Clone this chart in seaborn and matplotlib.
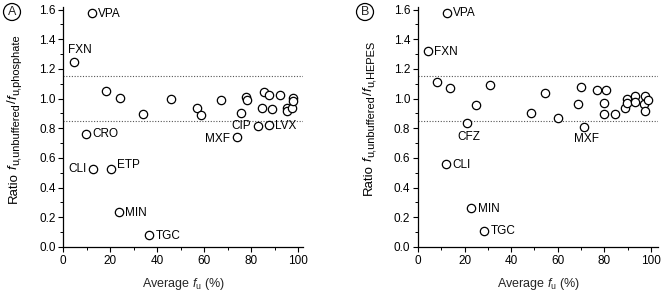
import matplotlib
matplotlib.use("Agg")
import matplotlib.pyplot as plt
import seaborn as sns
import pandas as pd
from matplotlib.ticker import MultipleLocator
from matplotlib.transforms import IdentityTransform

sns.set_theme(style="ticks")
plt.rcParams['font.family'] = ['Liberation Sans', 'DejaVu Sans']
plt.rcParams['mathtext.fontset'] = 'custom'
plt.rcParams['mathtext.rm'] = 'Liberation Sans'
plt.rcParams['mathtext.it'] = 'Liberation Sans:italic'

# Panel A data: average fu (%) vs ratio unbuffered/phosphate
a_fu = [12.3, 4.5, 18.2, 24.1, 33.8, 45.8, 56.7, 58.6, 67.1, 75.7, 77.7, 78.2,
        85.2, 87.7, 92.1, 84.7, 88.8, 95.3, 95.3, 97.4, 97.6, 97.9,
        82.7, 87.4, 73.8, 9.6, 12.5, 20.3, 23.8, 36.5]
a_ratio = [1.575, 1.25, 1.05, 1.005, 0.897, 1.0, 0.935, 0.89, 0.99, 0.90, 1.01, 0.99,
           1.047, 1.027, 1.025, 0.937, 0.93, 0.937, 0.917, 0.937, 1.006, 0.987,
           0.817, 0.819, 0.744, 0.763, 0.528, 0.523, 0.235, 0.078]
a_names = ["VPA", "FXN", "", "", "", "", "", "", "", "", "", "",
           "", "", "", "", "", "", "", "", "", "",
           "CIP", "LVX", "MXF", "CRO", "CLI", "ETP", "MIN", "TGC"]

# Panel B data: average fu (%) vs ratio unbuffered/HEPES
b_fu = [12.3, 4.4, 8.2, 13.7, 20.9, 25.0, 30.9, 48.6, 54.5, 60.2, 68.7, 70.1,
        71.4, 76.7, 80.5, 79.7, 79.7, 84.4, 89.0, 89.8, 89.8, 93.3, 93.3,
        97.6, 97.1, 97.6, 98.9, 12.0, 22.9, 28.5]
b_ratio = [1.58, 1.32, 1.11, 1.07, 0.835, 0.955, 1.095, 0.90, 1.035, 0.87, 0.965, 1.08,
           0.81, 1.055, 1.06, 0.97, 0.895, 0.895, 0.94, 1.0, 0.97, 1.015, 0.975,
           1.015, 0.965, 0.915, 0.99, 0.56, 0.26, 0.11]
b_names = ["VPA", "FXN", "", "", "CFZ", "", "", "", "", "", "", "",
           "MXF", "", "", "", "", "", "", "", "", "", "",
           "", "", "", "", "CLI", "MIN", "TGC"]

ylabel_a = ["Ratio", "f", "u,unbuffered", "/", "f", "u,phosphate"]
ylabel_b = ["Ratio", "f", "u,unbuffered", "/", "f", "u,HEPES"]

# label placement (offset in points, alignment)
R = ((4.5, -0.5), 'left', 'center')
L = ((-4.5, -0.5), 'right', 'center')
place_a = {"VPA": R, "FXN": ((4, 8), 'center', 'center'), "CIP": L, "LVX": R,
           "MXF": ((-4.5, -1.5), 'right', 'center'), "CRO": R, "CLI": L,
           "ETP": ((4.5, 3.5), 'left', 'center'), "MIN": R, "TGC": R}
place_b = {"VPA": R, "FXN": R, "CFZ": ((1.5, -10), 'center', 'center'),
           "MXF": ((1.2, -8.5), 'center', 'center'), "CLI": R, "MIN": R, "TGC": R}

df_a = pd.DataFrame({"fu": a_fu, "ratio": a_ratio, "name": a_names})
df_b = pd.DataFrame({"fu": b_fu, "ratio": b_ratio, "name": b_names})

W, H = 664, 303
fig = plt.figure(figsize=(W / 100, H / 100), dpi=100)
ax_a = fig.add_axes([0.0953, 0.185, 0.361, 0.793])
ax_b = fig.add_axes([0.6295, 0.185, 0.3614, 0.793])

FS = 8.5
panels = [(ax_a, df_a, place_a, 102), (ax_b, df_b, place_b, 103)]

for ax, df, place, xmax in panels:
    ax.axhline(0.85, color='#555555', lw=0.8, ls=(0, (1, 1.5)), zorder=1)
    ax.axhline(1.15, color='#555555', lw=0.8, ls=(0, (1, 1.5)), zorder=1)
    sns.scatterplot(data=df, x="fu", y="ratio", ax=ax, marker='o', s=36,
                    facecolor='white', edgecolor='black', linewidth=0.9, zorder=3,
                    legend=False)
    for _, row in df.iterrows():
        if row["name"]:
            off, ha, va = place[row["name"]]
            ax.annotate(row["name"], (row["fu"], row["ratio"]), xytext=off,
                        textcoords='offset points', ha=ha, va=va, fontsize=FS,
                        color='black', zorder=4)
    ax.set_xlim(0, xmax)
    ax.set_ylim(0, 1.62)
    ax.set_xticks([0, 20, 40, 60, 80, 100])
    yt = [0, 0.2, 0.4, 0.6, 0.8, 1.0, 1.2, 1.4, 1.6]
    ax.set_yticks(yt)
    ax.set_yticklabels([f"{v:.1f}" for v in yt])
    ax.xaxis.set_minor_locator(MultipleLocator(10))
    ax.yaxis.set_minor_locator(MultipleLocator(0.1))
    ax.tick_params(which='major', direction='out', length=3.5, width=0.8,
                   labelsize=FS, pad=2, color='black', labelcolor='black')
    ax.tick_params(which='minor', direction='out', length=2, width=0.7, color='black')
    for s in ['top', 'right']:
        ax.spines[s].set_visible(False)
    for s in ['left', 'bottom']:
        ax.spines[s].set_linewidth(0.9)
        ax.spines[s].set_color('black')
    ax.set_xlabel(r"Average $f_{\mathrm{u}}$ (%)", fontsize=9, labelpad=7)
    ax.set_ylabel("")
    ax.set_facecolor('white')

renderer = fig.canvas.get_renderer()


def rotated_label(parts, x_base, y_center):
    """Build a vertical label from pieces: main text, italic f, subscripts."""
    styles = []
    for i, t in enumerate(parts):
        if i == 0:
            styles.append((9.5, 'normal', 0.0, 0.0))
        elif t == "f":
            styles.append((9.5, 'italic', 0.0, 3.0 if i == 1 else 0.5))
        elif t == "/":
            styles.append((9.5, 'normal', 0.0, 0.3))
        else:
            styles.append((7.9, 'normal', 2.6, 0.3))
    widths = []
    for t, (size, style, _, _) in zip(parts, styles):
        tmp = fig.text(0, 0, t, fontsize=size, style=style)
        widths.append(tmp.get_window_extent(renderer).width)
        tmp.remove()
    total = sum(w + st[3] for w, st in zip(widths, styles))
    y = y_center - total / 2
    for t, w, (size, style, shift, gap) in zip(parts, widths, styles):
        y += gap
        fig.text(x_base + shift, y, t, fontsize=size, style=style, rotation=90,
                 rotation_mode='anchor', ha='left', va='baseline',
                 transform=IdentityTransform(), color='black')
        y += w


rotated_label(ylabel_a, 16.5, H - 119)
rotated_label(ylabel_b, 371.5, H - 118)

fig.text(12 / W, 1 - 12 / H, "A", fontsize=9, ha='center', va='center',
         bbox=dict(boxstyle='circle,pad=0.2', fc='white', ec='black', lw=0.9))
fig.text(365 / W, 1 - 12 / H, "B", fontsize=9, ha='center', va='center',
         bbox=dict(boxstyle='circle,pad=0.2', fc='white', ec='black', lw=0.9))

fig.savefig("out.png", dpi=100, facecolor='white')
